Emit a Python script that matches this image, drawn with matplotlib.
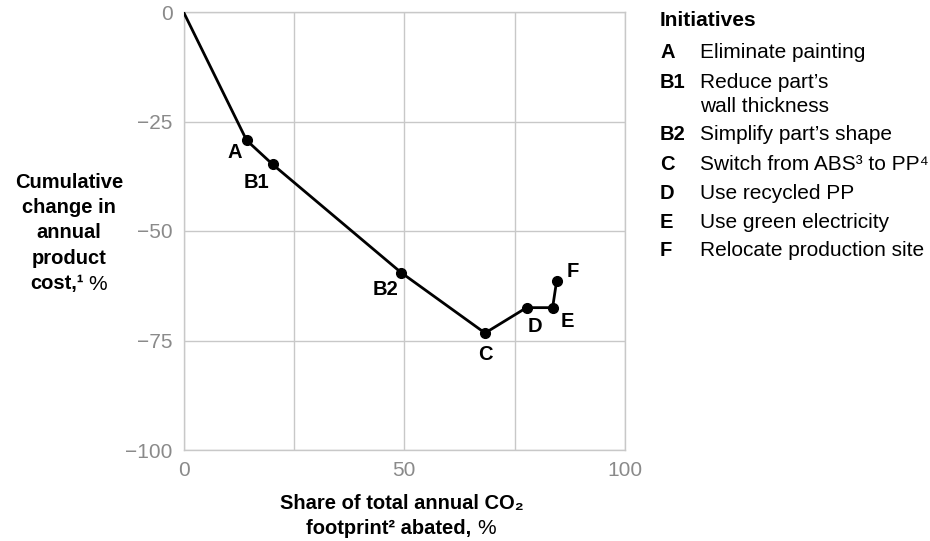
import matplotlib
matplotlib.use("Agg")
import matplotlib.pyplot as plt

plt.rcParams['font.family'] = ['Liberation Sans', 'DejaVu Sans']

# data
co2_abated = [0, 14.3, 20.2, 49.3, 68.3, 77.7, 83.6, 84.5]
cost_change = [0, -29.3, -34.8, -59.5, -73.3, -67.5, -67.5, -61.5]
point_labels = ["", "A", "B1", "B2", "C", "D", "E", "F"]
# label offsets in pixels (dx, dy)
label_offsets = [(0, 0), (-12, -12), (-16, -18), (-16, -17), (0, -21), (8, -19), (15, -14), (16, 10)]

initiative_codes = ["A", "B1", "B2", "C", "D", "E", "F"]
initiative_names = ["Eliminate painting", "Reduce part\u2019s\nwall thickness",
                    "Simplify part\u2019s shape", "Switch from ABS\u00b3 to PP\u2074",
                    "Use recycled PP", "Use green electricity", "Relocate production site"]

x_ticks = [0, 50, 100]
y_ticks = [0, -25, -50, -75, -100]

GRID = "#c8c8c8"
TICK = "#8a8a8a"
FSB = 14.5   # bold text
FS = 15      # regular text

fig = plt.figure(figsize=(9.3, 5.41), dpi=100)
ax = fig.add_axes([183.5 / 930, 1 - 450 / 541, 441.5 / 930, 438 / 541])

ax.plot(co2_abated, cost_change, color="black", lw=2, zorder=3)
ax.plot(co2_abated[1:], cost_change[1:], "o", color="black", ms=7, zorder=4)

for x, y, lab, (dx, dy) in zip(co2_abated, cost_change, point_labels, label_offsets):
    if lab:
        ax.annotate(lab, (x, y), xytext=(dx, dy), textcoords="offset pixels",
                    ha="center", va="center", fontsize=FSB, fontweight="bold")

ax.set_xlim(0, 100)
ax.set_ylim(-100, 0)
ax.set_xticks([0, 25, 50, 75, 100])
ax.set_xticklabels(["0", "", "50", "", "100"])
ax.set_yticks(y_ticks)
ax.set_yticklabels([str(t).replace("-", "\u2212") for t in y_ticks])
ax.tick_params(length=0, labelsize=FS, labelcolor=TICK, pad=8)
ax.grid(True, color=GRID, lw=1)
for s in ax.spines.values():
    s.set_color(GRID)
    s.set_linewidth(1)

# y label, bold except the % sign
ylab = ["Cumulative", "change in", "annual", "product"]
for i, line in enumerate(ylab):
    fig.text(69 / 930, 1 - (182 + 25.5 * i) / 541, line, ha="center", va="center",
             fontsize=FSB, fontweight="bold")
fig.text(84 / 930, 1 - 284 / 541, "cost,\u00b9", ha="right", va="center", fontsize=FSB, fontweight="bold")
fig.text(88 / 930, 1 - 284 / 541, "%", ha="left", va="center", fontsize=FS)

# x label
fig.text(402 / 930, 1 - 504 / 541, "Share of total annual CO\u2082", ha="center", va="center",
         fontsize=FSB, fontweight="bold")
fig.text(471 / 930, 1 - 529 / 541, "footprint\u00b2 abated,", ha="right", va="center",
         fontsize=FSB, fontweight="bold")
fig.text(477 / 930, 1 - 529 / 541, "%", ha="left", va="center", fontsize=FS)

# initiatives key
fig.text(660 / 930, 1 - 20 / 541, "Initiatives", ha="left", va="center", fontsize=FS, fontweight="bold")
y = 53
for code, name in zip(initiative_codes, initiative_names):
    fig.text(660 / 930, 1 - y / 541, code, ha="left", va="center", fontsize=FSB, fontweight="bold")
    lines = name.split("\n")
    for j, ln in enumerate(lines):
        fig.text(700 / 930, 1 - (y + 24 * j) / 541, ln, ha="left", va="center", fontsize=FS)
    y += 29 + 24 * (len(lines) - 1)

fig.savefig("out.png", dpi=100)
